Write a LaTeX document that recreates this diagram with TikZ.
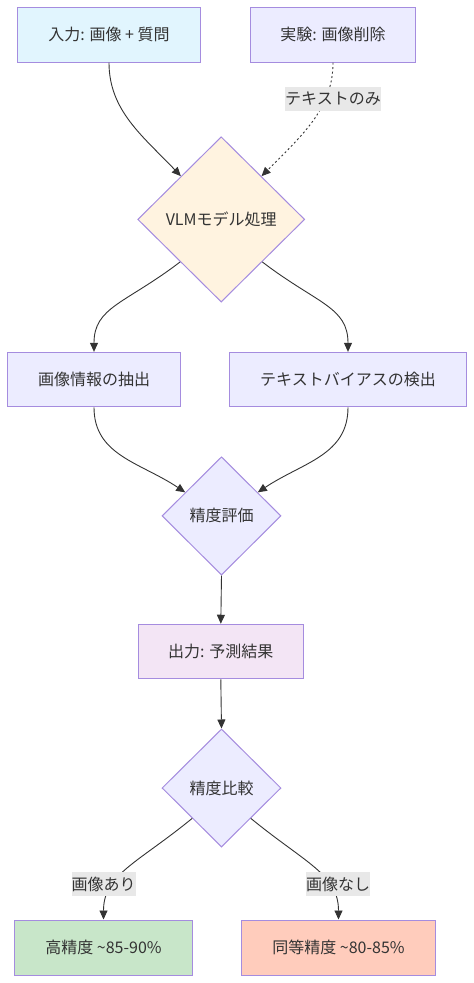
\documentclass[tikz,border=0pt]{standalone}
\usepackage{fontspec}
\setmainfont{Noto Sans CJK JP}
\usetikzlibrary{shapes.geometric,arrows.meta}
\definecolor{txt}{HTML}{333333}
\definecolor{strk}{HTML}{A58CDF}
\definecolor{edge}{HTML}{333333}
\definecolor{cA}{HTML}{E1F5FE}
\definecolor{cDef}{HTML}{ECECFF}
\definecolor{cVLM}{HTML}{FFF3E0}
\definecolor{cOut}{HTML}{F3E5F5}
\definecolor{cHi}{HTML}{C8E6C9}
\definecolor{cEq}{HTML}{FFCCBC}
\definecolor{lbl}{HTML}{E8E8E8}
\tikzset{
  every node/.style={font=\fontsize{16}{19}\selectfont, text=txt},
  box/.style={rectangle, draw=strk, line width=1pt, inner sep=0pt, minimum height=54.5pt},
  dia/.style={diamond, draw=strk, line width=1pt, inner sep=0pt, aspect=1},
  conn/.style={draw=edge, line width=0.9pt, -{Triangle[length=9pt,width=8pt]}},
  dotconn/.style={conn, dash pattern=on 2pt off 2.5pt},
  elabel/.style={fill=lbl, inner sep=0pt, minimum height=23.5pt}
}
\begin{document}
\begin{tikzpicture}[x=1pt,y=-1pt]
\useasboundingbox (0,0) rectangle (474,983);
% nodes
\node[box, fill=cA, minimum width=183.4pt] (inp) at (109,34.85) {入力: 画像 + 質問};
\node[box, fill=cDef, minimum width=165.4pt] (exp) at (333,34.85) {実験: 画像削除};
\node[dia, fill=cVLM, minimum width=167pt, minimum height=165.3pt] (vlm) at (221.2,219.4) {VLMモデル処理};
\node[box, fill=cDef, minimum width=172.6pt] (img) at (94,379.6) {画像情報の抽出};
\node[box, fill=cDef, minimum width=236.6pt] (bias) at (348,379.6) {テキストバイアスの検出};
\node[dia, fill=cDef, minimum width=119pt, minimum height=118.3pt] (eval) at (221.5,515.9) {精度評価};
\node[box, fill=cOut, minimum width=165pt] (out) at (220.8,651.5) {出力: 予測結果};
\node[dia, fill=cDef, minimum width=119pt, minimum height=118pt] (cmp) at (221.5,788) {精度比較};
\node[box, fill=cHi, minimum width=177.6pt, minimum height=55pt] (hi) at (103.5,947.5) {高精度 \textasciitilde85-90\%};
\node[box, fill=cEq, minimum width=193.6pt, minimum height=55pt] (eq) at (338.5,947.5) {同等精度 \textasciitilde80-85\%};
% connectors
\draw[conn] (inp.south) .. controls +(0,48) and +(-38,-40) .. (vlm.133);
\draw[dotconn] (exp.south) .. controls +(0,45) and +(42,-42) .. (vlm.47);
\draw[conn] (vlm.226) .. controls +(-55,42) and +(0,-45) .. (img.north);
\draw[conn] (vlm.314) .. controls +(55,42) and +(0,-45) .. (bias.north);
\draw[conn] (img.south) .. controls +(0,48) and +(-45,-30) .. (eval.147);
\draw[conn] (bias.south) .. controls +(0,48) and +(45,-30) .. (eval.33);
\draw[conn] (eval.south) -- (out.north);
\draw[conn] (out.south) -- (cmp.north);
\draw[conn] (cmp.226) .. controls +(-55,45) and +(0,-45) .. (hi.north);
\draw[conn] (cmp.314) .. controls +(55,45) and +(0,-45) .. (eq.north);
% edge labels
\node[elabel, minimum width=95.7pt] (l1) at (333,99) {テキストのみ};
\node[elabel, minimum width=63pt] (l2) at (103.5,884) {画像あり};
\node[elabel, minimum width=62.6pt] (l3) at (338,884) {画像なし};
\end{tikzpicture}
\end{document}
